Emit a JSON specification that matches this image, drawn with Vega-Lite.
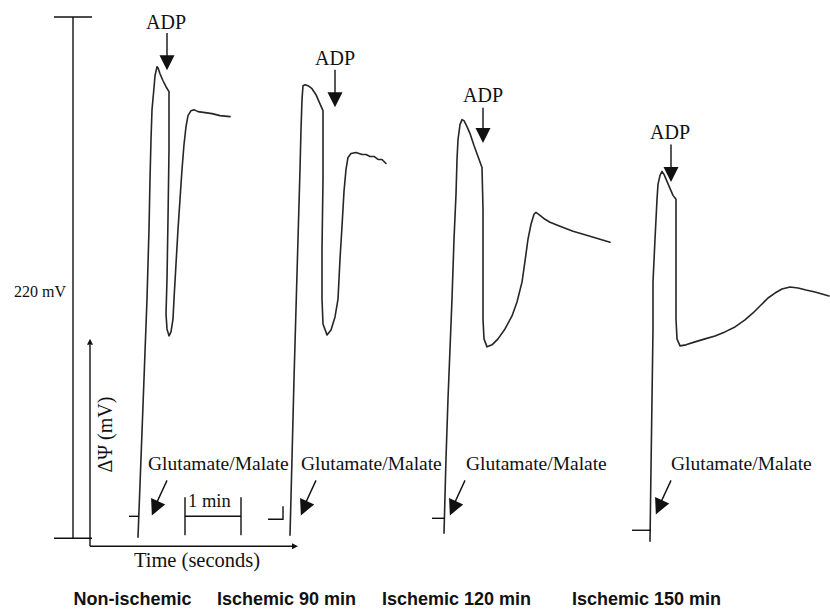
{
  "$schema": "https://vega.github.io/schema/vega-lite/v6.json",
  "width": 830,
  "height": 609,
  "padding": 0,
  "autosize": {"type": "fit", "contains": "padding"},
  "background": "white",
  "config": {"view": {"stroke": null}},
  "datasets": {
    "traces": [
      {"s":"t1","i":0,"x":138,"y":539},{"s":"t1","i":1,"x":141,"y":460},{"s":"t1","i":2,"x":144,"y":380},{"s":"t1","i":3,"x":147,"y":300},{"s":"t1","i":4,"x":149,"y":230},{"s":"t1","i":5,"x":150,"y":180},{"s":"t1","i":6,"x":151,"y":140},{"s":"t1","i":7,"x":152,"y":110},{"s":"t1","i":8,"x":154,"y":88},{"s":"t1","i":9,"x":155,"y":76},{"s":"t1","i":10,"x":157,"y":67},{"s":"t1","i":11,"x":158,"y":68},{"s":"t1","i":12,"x":160,"y":74},{"s":"t1","i":13,"x":163,"y":81},{"s":"t1","i":14,"x":166,"y":87},{"s":"t1","i":15,"x":169,"y":92},{"s":"t1","i":16,"x":169,"y":150},{"s":"t1","i":17,"x":168,"y":220},{"s":"t1","i":18,"x":167,"y":280},{"s":"t1","i":19,"x":166,"y":315},{"s":"t1","i":20,"x":167,"y":330},{"s":"t1","i":21,"x":169,"y":337},{"s":"t1","i":22,"x":171,"y":333},{"s":"t1","i":23,"x":173,"y":320},{"s":"t1","i":24,"x":174,"y":300},{"s":"t1","i":25,"x":176,"y":265},{"s":"t1","i":26,"x":178,"y":230},{"s":"t1","i":27,"x":180,"y":200},{"s":"t1","i":28,"x":182,"y":170},{"s":"t1","i":29,"x":184,"y":145},{"s":"t1","i":30,"x":186,"y":127},{"s":"t1","i":31,"x":188,"y":116},{"s":"t1","i":32,"x":191,"y":111},{"s":"t1","i":33,"x":194,"y":110},{"s":"t1","i":34,"x":198,"y":112},{"s":"t1","i":35,"x":205,"y":113},{"s":"t1","i":36,"x":212,"y":114},{"s":"t1","i":37,"x":220,"y":116},{"s":"t1","i":38,"x":230,"y":117},
      {"s":"t2","i":0,"x":290,"y":537},{"s":"t2","i":1,"x":292,"y":460},{"s":"t2","i":2,"x":294,"y":380},{"s":"t2","i":3,"x":296,"y":310},{"s":"t2","i":4,"x":298,"y":240},{"s":"t2","i":5,"x":300,"y":170},{"s":"t2","i":6,"x":301,"y":130},{"s":"t2","i":7,"x":302,"y":100},{"s":"t2","i":8,"x":303,"y":86},{"s":"t2","i":9,"x":305,"y":85},{"s":"t2","i":10,"x":308,"y":86},{"s":"t2","i":11,"x":312,"y":89},{"s":"t2","i":12,"x":316,"y":95},{"s":"t2","i":13,"x":319,"y":102},{"s":"t2","i":14,"x":323,"y":111},{"s":"t2","i":15,"x":323,"y":180},{"s":"t2","i":16,"x":322,"y":250},{"s":"t2","i":17,"x":322,"y":300},{"s":"t2","i":18,"x":323,"y":325},{"s":"t2","i":19,"x":327,"y":336},{"s":"t2","i":20,"x":331,"y":331},{"s":"t2","i":21,"x":335,"y":318},{"s":"t2","i":22,"x":338,"y":300},{"s":"t2","i":23,"x":340,"y":260},{"s":"t2","i":24,"x":342,"y":227},{"s":"t2","i":25,"x":344,"y":192},{"s":"t2","i":26,"x":346,"y":170},{"s":"t2","i":27,"x":348,"y":158},{"s":"t2","i":28,"x":351,"y":154},{"s":"t2","i":29,"x":356,"y":153},{"s":"t2","i":30,"x":362,"y":155},{"s":"t2","i":31,"x":366,"y":155},{"s":"t2","i":32,"x":370,"y":157},{"s":"t2","i":33,"x":374,"y":157},{"s":"t2","i":34,"x":378,"y":160},{"s":"t2","i":35,"x":382,"y":160},{"s":"t2","i":36,"x":386,"y":164},
      {"s":"t3","i":0,"x":444,"y":535},{"s":"t3","i":1,"x":446,"y":460},{"s":"t3","i":2,"x":448,"y":400},{"s":"t3","i":3,"x":450,"y":350},{"s":"t3","i":4,"x":452,"y":300},{"s":"t3","i":5,"x":454,"y":240},{"s":"t3","i":6,"x":456,"y":195},{"s":"t3","i":7,"x":457,"y":160},{"s":"t3","i":8,"x":458,"y":140},{"s":"t3","i":9,"x":460,"y":125},{"s":"t3","i":10,"x":462,"y":120},{"s":"t3","i":11,"x":464,"y":121},{"s":"t3","i":12,"x":467,"y":127},{"s":"t3","i":13,"x":470,"y":134},{"s":"t3","i":14,"x":474,"y":146},{"s":"t3","i":15,"x":478,"y":157},{"s":"t3","i":16,"x":482,"y":168},{"s":"t3","i":17,"x":483,"y":210},{"s":"t3","i":18,"x":483,"y":270},{"s":"t3","i":19,"x":483,"y":320},{"s":"t3","i":20,"x":484,"y":340},{"s":"t3","i":21,"x":487,"y":348},{"s":"t3","i":22,"x":492,"y":346},{"s":"t3","i":23,"x":498,"y":340},{"s":"t3","i":24,"x":505,"y":330},{"s":"t3","i":25,"x":512,"y":317},{"s":"t3","i":26,"x":517,"y":303},{"s":"t3","i":27,"x":522,"y":283},{"s":"t3","i":28,"x":525,"y":262},{"s":"t3","i":29,"x":528,"y":240},{"s":"t3","i":30,"x":531,"y":225},{"s":"t3","i":31,"x":534,"y":215},{"s":"t3","i":32,"x":536,"y":213},{"s":"t3","i":33,"x":540,"y":216},{"s":"t3","i":34,"x":545,"y":220},{"s":"t3","i":35,"x":550,"y":223},{"s":"t3","i":36,"x":560,"y":227},{"s":"t3","i":37,"x":573,"y":232},{"s":"t3","i":38,"x":590,"y":237},{"s":"t3","i":39,"x":610,"y":243},
      {"s":"t4","i":0,"x":650,"y":543},{"s":"t4","i":1,"x":651,"y":470},{"s":"t4","i":2,"x":652,"y":400},{"s":"t4","i":3,"x":653,"y":330},{"s":"t4","i":4,"x":653,"y":283},{"s":"t4","i":5,"x":655,"y":240},{"s":"t4","i":6,"x":657,"y":200},{"s":"t4","i":7,"x":658,"y":185},{"s":"t4","i":8,"x":660,"y":176},{"s":"t4","i":9,"x":662,"y":172},{"s":"t4","i":10,"x":664,"y":175},{"s":"t4","i":11,"x":667,"y":182},{"s":"t4","i":12,"x":670,"y":189},{"s":"t4","i":13,"x":673,"y":196},{"s":"t4","i":14,"x":676,"y":200},{"s":"t4","i":15,"x":676,"y":260},{"s":"t4","i":16,"x":676,"y":320},{"s":"t4","i":17,"x":677,"y":340},{"s":"t4","i":18,"x":680,"y":347},{"s":"t4","i":19,"x":686,"y":346},{"s":"t4","i":20,"x":695,"y":343},{"s":"t4","i":21,"x":705,"y":340},{"s":"t4","i":22,"x":715,"y":337},{"s":"t4","i":23,"x":725,"y":333},{"s":"t4","i":24,"x":735,"y":328},{"s":"t4","i":25,"x":745,"y":321},{"s":"t4","i":26,"x":753,"y":314},{"s":"t4","i":27,"x":761,"y":306},{"s":"t4","i":28,"x":768,"y":299},{"s":"t4","i":29,"x":775,"y":294},{"s":"t4","i":30,"x":782,"y":290},{"s":"t4","i":31,"x":790,"y":288},{"s":"t4","i":32,"x":798,"y":289},{"s":"t4","i":33,"x":806,"y":291},{"s":"t4","i":34,"x":815,"y":293},{"s":"t4","i":35,"x":829,"y":297}
    ],
    "lines": [
      {"s":"sb","i":0,"x":73,"y":17},{"s":"sb","i":1,"x":73,"y":540},
      {"s":"sbt","i":0,"x":54,"y":17},{"s":"sbt","i":1,"x":92,"y":17},
      {"s":"sbb","i":0,"x":54,"y":540},{"s":"sbb","i":1,"x":92,"y":540},
      {"s":"yax","i":0,"x":90,"y":548},{"s":"yax","i":1,"x":90,"y":346},
      {"s":"xax","i":0,"x":90,"y":548},{"s":"xax","i":1,"x":292,"y":548},
      {"s":"min","i":0,"x":185,"y":518},{"s":"min","i":1,"x":241,"y":518},
      {"s":"minL","i":0,"x":185,"y":499},{"s":"minL","i":1,"x":185,"y":537},
      {"s":"minR","i":0,"x":241,"y":499},{"s":"minR","i":1,"x":241,"y":537},
      {"s":"a1","i":0,"x":167,"y":33},{"s":"a1","i":1,"x":167,"y":58},
      {"s":"a2","i":0,"x":335,"y":70},{"s":"a2","i":1,"x":335,"y":95},
      {"s":"a3","i":0,"x":483,"y":108},{"s":"a3","i":1,"x":483,"y":132},
      {"s":"a4","i":0,"x":671,"y":145},{"s":"a4","i":1,"x":671,"y":170},
      {"s":"g1","i":0,"x":167,"y":482},{"s":"g1","i":1,"x":155,"y":508},
      {"s":"g2","i":0,"x":316,"y":482},{"s":"g2","i":1,"x":304,"y":508},
      {"s":"g3","i":0,"x":465,"y":482},{"s":"g3","i":1,"x":453,"y":508},
      {"s":"g4","i":0,"x":671,"y":482},{"s":"g4","i":1,"x":659,"y":508},
      {"s":"m1","i":0,"x":129,"y":518},{"s":"m1","i":1,"x":139,"y":518},
      {"s":"m2","i":0,"x":268,"y":521},{"s":"m2","i":1,"x":283,"y":521},{"s":"m2","i":2,"x":283,"y":508},
      {"s":"m3","i":0,"x":432,"y":520},{"s":"m3","i":1,"x":445,"y":520},
      {"s":"m4","i":0,"x":632,"y":532},{"s":"m4","i":1,"x":651,"y":532}
    ],
    "heads": [
      {"k":"adp","x":167,"y":63},{"k":"adp","x":335,"y":100},{"k":"adp","x":483,"y":136},{"k":"adp","x":671,"y":175},
      {"k":"gm","x":155,"y":510},{"k":"gm","x":304,"y":510},{"k":"gm","x":453,"y":510},{"k":"gm","x":659,"y":509},
      {"k":"up","x":90,"y":343},
      {"k":"right","x":295,"y":548}
    ],
    "labels": [
      {"k":"adp","x":166,"y":29,"t":"ADP"},{"k":"adp","x":335,"y":65,"t":"ADP"},{"k":"adp","x":483,"y":102,"t":"ADP"},{"k":"adp","x":670,"y":139,"t":"ADP"},
      {"k":"gm","x":148,"y":472,"t":"Glutamate/Malate"},{"k":"gm","x":301,"y":472,"t":"Glutamate/Malate"},{"k":"gm","x":466,"y":472,"t":"Glutamate/Malate"},{"k":"gm","x":671,"y":472,"t":"Glutamate/Malate"},
      {"k":"mv","x":66,"y":298,"t":"220 mV"},
      {"k":"min","x":188,"y":509,"t":"1 min"},
      {"k":"time","x":197,"y":569,"t":"Time (seconds)"},
      {"k":"psi","x":112,"y":436,"t":"ΔΨ (mV)"},
      {"k":"cond","x":132.5,"y":607,"t":"Non-ischemic"},{"k":"cond","x":286.5,"y":607,"t":"Ischemic 90 min"},{"k":"cond","x":456.5,"y":607,"t":"Ischemic 120 min"},{"k":"cond","x":646.5,"y":607,"t":"Ischemic 150 min"}
    ]
  },
  "encoding": {
    "x": {"field": "x", "type": "quantitative", "scale": {"domain": [0, 830], "nice": false, "zero": false}, "axis": null},
    "y": {"field": "y", "type": "quantitative", "scale": {"domain": [0, 609], "nice": false, "zero": false, "reverse": true}, "axis": null}
  },
  "layer": [
    {
      "data": {"name": "traces"},
      "mark": {"type": "line", "color": "#262626", "strokeWidth": 1.6, "strokeJoin": "round", "strokeCap": "round"},
      "encoding": {"detail": {"field": "s"}, "order": {"field": "i", "type": "quantitative"}}
    },
    {
      "data": {"name": "lines"},
      "mark": {"type": "line", "color": "#111111", "strokeWidth": 1.4},
      "encoding": {"detail": {"field": "s"}, "order": {"field": "i", "type": "quantitative"}}
    },
    {
      "data": {"name": "heads"},
      "transform": [{"filter": "datum.k === 'adp'"}],
      "mark": {"type": "point", "shape": "M-1,-1L1,-1L0,1Z", "filled": true, "color": "#111111", "opacity": 1, "size": 225}
    },
    {
      "data": {"name": "heads"},
      "transform": [{"filter": "datum.k === 'gm'"}],
      "mark": {"type": "point", "shape": "M-1,-1L1,-1L0,1Z", "filled": true, "color": "#111111", "opacity": 1, "size": 240, "angle": 24}
    },
    {
      "data": {"name": "heads"},
      "transform": [{"filter": "datum.k === 'up'"}],
      "mark": {"type": "point", "shape": "M-1,1L1,1L0,-1Z", "filled": true, "color": "#111111", "opacity": 1, "size": 36}
    },
    {
      "data": {"name": "heads"},
      "transform": [{"filter": "datum.k === 'right'"}],
      "mark": {"type": "point", "shape": "M-1,-1L-1,1L1,0Z", "filled": true, "color": "#111111", "opacity": 1, "size": 36}
    },
    {
      "data": {"name": "labels"},
      "transform": [{"filter": "datum.k === 'adp'"}],
      "mark": {"type": "text", "font": "Liberation Serif", "fontSize": 20, "align": "center", "baseline": "alphabetic", "color": "#111111"},
      "encoding": {"text": {"field": "t"}}
    },
    {
      "data": {"name": "labels"},
      "transform": [{"filter": "datum.k === 'gm'"}],
      "mark": {"type": "text", "font": "Liberation Serif", "fontSize": 19.5, "align": "left", "baseline": "alphabetic", "color": "#111111"},
      "encoding": {"text": {"field": "t"}}
    },
    {
      "data": {"name": "labels"},
      "transform": [{"filter": "datum.k === 'mv'"}],
      "mark": {"type": "text", "font": "Liberation Serif", "fontSize": 16, "align": "right", "baseline": "alphabetic", "color": "#111111"},
      "encoding": {"text": {"field": "t"}}
    },
    {
      "data": {"name": "labels"},
      "transform": [{"filter": "datum.k === 'min'"}],
      "mark": {"type": "text", "font": "Liberation Serif", "fontSize": 18.5, "align": "left", "baseline": "alphabetic", "color": "#111111"},
      "encoding": {"text": {"field": "t"}}
    },
    {
      "data": {"name": "labels"},
      "transform": [{"filter": "datum.k === 'time'"}],
      "mark": {"type": "text", "font": "Liberation Serif", "fontSize": 20.5, "align": "center", "baseline": "alphabetic", "color": "#111111"},
      "encoding": {"text": {"field": "t"}}
    },
    {
      "data": {"name": "labels"},
      "transform": [{"filter": "datum.k === 'psi'"}],
      "mark": {"type": "text", "font": "Liberation Serif", "fontSize": 20, "align": "center", "baseline": "alphabetic", "angle": 270, "color": "#111111"},
      "encoding": {"text": {"field": "t"}}
    },
    {
      "data": {"name": "labels"},
      "transform": [{"filter": "datum.k === 'cond'"}],
      "mark": {"type": "text", "font": "Liberation Sans", "fontSize": 18, "fontWeight": "bold", "align": "center", "baseline": "alphabetic", "color": "#111111"},
      "encoding": {"text": {"field": "t"}}
    }
  ]
}
